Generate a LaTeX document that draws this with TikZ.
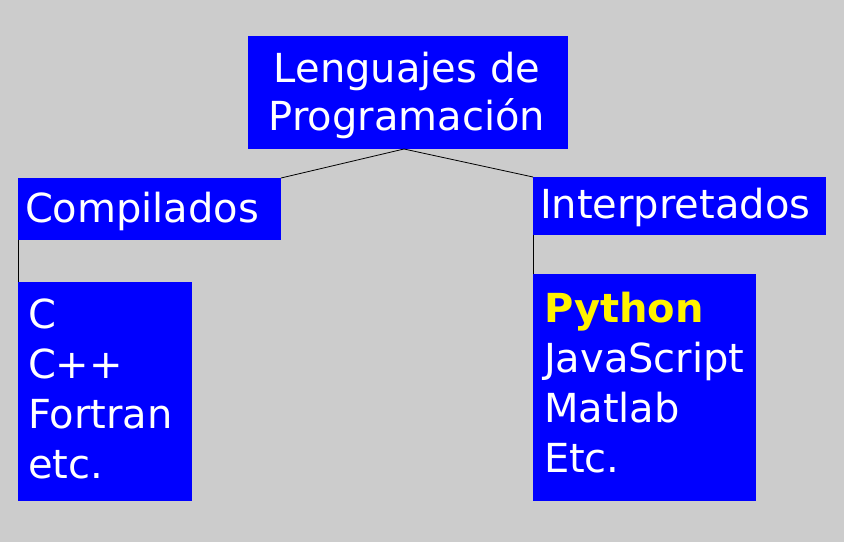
\documentclass[tikz,border=0pt]{standalone}
\usepackage{fontspec}
\setmainfont{DejaVu Sans}
\definecolor{bggray}{RGB}{204,204,204}
\begin{document}
\begin{tikzpicture}[x=1pt,y=-1pt,
  box/.style={fill=blue, draw=none, inner sep=0pt, outer sep=0pt, anchor=north west},
  txt/.style={text=white, inner sep=0pt, outer sep=0pt, anchor=base west, align=left,
    font=\fontsize{40}{50}\selectfont},
  conn/.style={draw=black, line width=0.8pt}]
\fill[bggray] (0,0) rectangle (844,542);
\useasboundingbox (0,0) rectangle (844,542);
% boxes
\node[box, minimum width=320pt, minimum height=113pt] (top) at (248,36) {};
\node[box, minimum width=263pt, minimum height=62pt] (comp) at (18,178) {};
\node[box, minimum width=293pt, minimum height=58pt] (interp) at (533,177) {};
\node[box, minimum width=174pt, minimum height=219pt] (llist) at (18,282) {};
\node[box, minimum width=223pt, minimum height=227pt] (rlist) at (533,274) {};
% texts (base anchor = baseline of the last line)
\node[txt, anchor=base, align=center, font=\fontsize{40}{48}\selectfont] (toptxt) at (407,130) {Lenguajes de\\Programación};
\node[txt] (comptxt) at (25,222) {Compilados};
\node[txt] (interptxt) at (540,218) {Interpretados};
\node[txt] (llisttxt) at (28,478.5) {C\\C++\\Fortran\\etc.};
\node[txt] (rlisttxt) at (544,472) {{\bfseries\color{yellow}Python}\\JavaScript\\Matlab\\Etc.};
% connectors
\draw[conn] ([xshift=-4pt]top.south) -- (comp.north east);
\draw[conn] ([xshift=-4pt]top.south) -- (interp.north west);
\draw[conn] (comp.south west) -- (llist.north west);
\draw[conn] (interp.south west) -- (rlist.north west);
\end{tikzpicture}
\end{document}
